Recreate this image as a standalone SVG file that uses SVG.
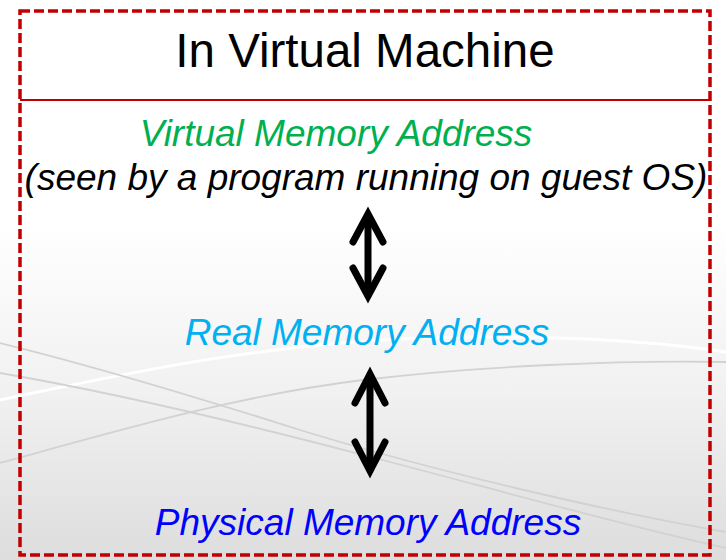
<svg xmlns="http://www.w3.org/2000/svg" width="726" height="560" viewBox="0 0 726 560">
  <defs>
    <linearGradient id="bg" x1="0" y1="0" x2="0" y2="1">
      <stop offset="0" stop-color="#ffffff"/>
      <stop offset="0.4" stop-color="#ffffff"/>
      <stop offset="0.7" stop-color="#f1f1f1"/>
      <stop offset="1" stop-color="#dddddd"/>
    </linearGradient>
    <style>
      .lbl { font-family: "Liberation Sans", Arial, sans-serif; font-style: italic; font-size: 37px; text-anchor: middle; }
      .swoosh { fill: none; stroke: #d2d2d2; stroke-width: 1.8; }
      .shine { fill: none; stroke: #ffffff; stroke-width: 3; }
      .arrow { fill: none; stroke: #000000; stroke-width: 7; stroke-linecap: round; stroke-linejoin: miter; }
    </style>
  </defs>

  <!-- slide background with soft swoosh lines -->
  <rect x="0" y="0" width="726" height="560" fill="url(#bg)"/>
  <path class="shine" d="M0,400 C120,375 250,345 420,338 C560,334 660,342 726,352"/>
  <path class="swoosh" d="M0,343 C90,365 190,395 300,430 C430,470 600,510 726,532"/>
  <path class="swoosh" d="M0,373 C110,392 230,420 363,455 C480,485 620,525 726,548"/>
  <path class="swoosh" d="M0,463 C120,430 240,395 363,380 C480,366 620,360 726,362"/>

  <!-- title band -->
  <g id="title">
    <rect x="20" y="11" width="690" height="89" fill="#ffffff"/>
    <line x1="20" y1="100" x2="710" y2="100" stroke="#c00000" stroke-width="2"/>
    <text x="365" y="67" font-family="'Liberation Sans', Arial, sans-serif" font-size="47.5" text-anchor="middle" fill="#000000">In Virtual Machine</text>
  </g>

  <!-- address levels -->
  <g id="virtual-address">
    <text class="lbl" x="336" y="146" fill="#00b050">Virtual Memory Address</text>
    <text class="lbl" x="366" y="190" fill="#000000">(seen by a program running on guest OS)</text>
  </g>
  <g id="real-address">
    <text class="lbl" x="367" y="345" fill="#00b0f0">Real Memory Address</text>
  </g>
  <g id="physical-address">
    <text class="lbl" x="368" y="535" fill="#0000ff">Physical Memory Address</text>
  </g>

  <!-- two-way mappings between levels -->
  <g id="connectors">
    <g id="map-virtual-real">
      <line class="arrow" x1="368" y1="216" x2="368" y2="294"/>
      <polyline class="arrow" points="353,242 368,214 383,242"/>
      <polyline class="arrow" points="353,268 368,296 383,268"/>
    </g>
    <g id="map-real-physical">
      <line class="arrow" x1="370" y1="376" x2="370" y2="469"/>
      <polyline class="arrow" points="355,403 370,374 385,403"/>
      <polyline class="arrow" points="355,442 370,471 385,442"/>
    </g>
  </g>

  <!-- dashed frame -->
  <rect x="20" y="11" width="690" height="544" fill="none" stroke="#c00000" stroke-width="3.5" stroke-dasharray="10 4"/>
</svg>
